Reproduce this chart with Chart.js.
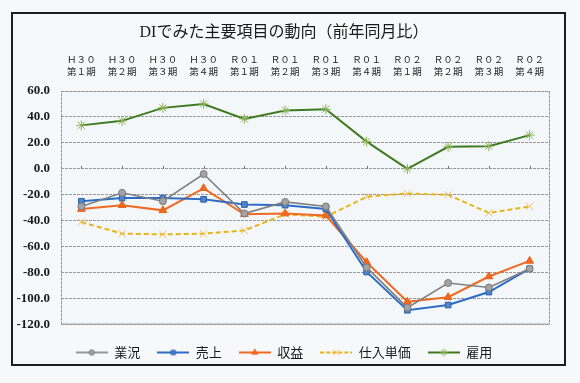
<!DOCTYPE html>
<html>
<head>
<meta charset="utf-8">
<script src="https://cdn.jsdelivr.net/npm/chart.js@4.4.1/dist/chart.umd.min.js"></script>
<style>
html,body{margin:0;padding:0;background:#f6f8f9;}
#wrap{position:absolute;left:0;top:0;width:580px;height:383px;}
</style>
</head>
<body>
<div id="wrap"><canvas id="c" width="580" height="383"></canvas></div>
<script>
const periodYears = ['Ｈ３０','Ｈ３０','Ｈ３０','Ｈ３０','Ｒ０１','Ｒ０１','Ｒ０１','Ｒ０１','Ｒ０２','Ｒ０２','Ｒ０２','Ｒ０２'];
const periodQuarters = ['第１期','第２期','第３期','第４期','第１期','第２期','第３期','第４期','第１期','第２期','第３期','第４期'];
const seriesNames = ['業況','売上','収益','仕入単価','雇用'];
const gyokyo  = [-29, -18.5, -25, -4, -34.5, -25.5, -29, -76, -107, -88, -91.5, -77];
const uriage  = [-25, -22.5, -22.5, -23.5, -27.5, -28, -31, -79.5, -109, -105, -95, -77];
const shueki  = [-31, -28, -32, -15, -35, -34.5, -36, -72, -102.5, -99, -83, -71];
const shiire  = [-41, -50, -50.5, -50, -47.5, -35, -37, -21.5, -19, -20, -34, -29];
const koyo    = [33.5, 37, 47, 50, 38.5, 45, 46, 21, 0, 17, 17.5, 26];
const yMin = -120, yMax = 60, yStep = 20;

const labels = periodYears.map((y, i) => [y, periodQuarters[i]]);

const styles = [
  {line:'#808080', fill:'#a3a3a3', border:'#7a7a7a', point:'circle', r:3.5, w:1.6, dash:[]},
  {line:'#2d6cc6', fill:'#4f86c9', border:'#2a5ea8', point:'rect', r:4, w:2, dash:[]},
  {line:'#ef6a22', fill:'#f26b21', border:'#e8601a', point:'triangle', r:4.5, w:2, dash:[]},
  {line:'#e8b41c', fill:'#f2c76a', border:'#f0c060', point:'crossRot', r:5, w:2, dash:[5,3]},
  {line:'#3e7a1e', fill:'#8db356', border:'#8db356', point:'star', r:5, w:2, dash:[]}
];
const values = [gyokyo, uriage, shueki, shiire, koyo];

function legendImage(s) {
  const cv = document.createElement('canvas');
  cv.width = 32; cv.height = 12;
  const ctx = cv.getContext('2d');
  ctx.strokeStyle = s.line; ctx.lineWidth = s.w;
  ctx.setLineDash(s.dash.length ? [4,2] : []);
  ctx.beginPath(); ctx.moveTo(0,6); ctx.lineTo(32,6); ctx.stroke();
  ctx.setLineDash([]);
  ctx.fillStyle = s.fill; ctx.strokeStyle = s.border; ctx.lineWidth = 1;
  Chart.helpers.drawPoint(ctx, {pointStyle:s.point, radius:s.r*0.75, borderWidth:1, rotation:0}, 16, 6);
  return cv;
}

const datasets = values.map((v, i) => ({
  label: seriesNames[i],
  data: v,
  borderColor: styles[i].line,
  borderWidth: styles[i].w,
  borderDash: styles[i].dash,
  backgroundColor: styles[i].fill,
  pointStyle: styles[i].point,
  pointRadius: styles[i].r,
  pointBackgroundColor: styles[i].fill,
  pointBorderColor: styles[i].border,
  pointBorderWidth: 1,
  tension: 0,
  fill: false
}));

const bgPlugin = {
  id: 'bg',
  beforeDraw(chart) {
    const ctx = chart.ctx, a = chart.chartArea;
    ctx.save();
    ctx.fillStyle = '#f6f8f9';
    ctx.fillRect(0, 0, chart.width, chart.height);
    ctx.fillStyle = '#f4f7fa';
    ctx.fillRect(a.left, a.top, a.right - a.left, a.bottom - a.top);
    ctx.strokeStyle = '#1e1e1e';
    ctx.lineWidth = 2;
    ctx.strokeRect(12, 13, 553, 352);
    ctx.restore();
  },
  beforeDatasetsDraw(chart) {
    const ctx = chart.ctx, a = chart.chartArea;
    ctx.save();
    ctx.strokeStyle = '#959595';
    ctx.lineWidth = 1;
    ctx.setLineDash([3,1]);
    ctx.strokeRect(a.left + 0.5, a.top + 0.5, a.right - a.left - 1, a.bottom - a.top - 1);
    ctx.setLineDash([]);
    const y0 = chart.scales.y.getPixelForValue(0);
    const xs = chart.scales.x;
    ctx.strokeStyle = '#777';
    ctx.beginPath();
    for (let i = 0; i < labels.length; i++) {
      const x = Math.round(xs.getPixelForValue(i)) + 0.5;
      ctx.moveTo(x, y0 - 3); ctx.lineTo(x, y0);
    }
    ctx.stroke();
    ctx.restore();
  }
};

new Chart(document.getElementById('c'), {
  type: 'line',
  data: { labels: labels, datasets: datasets },
  options: {
    responsive: false,
    animation: false,
    devicePixelRatio: 1,
    layout: { padding: { left: 0, right: 12, top: 0, bottom: 14 } },
    plugins: {
      title: {
        display: true,
        text: 'DIでみた主要項目の動向（前年同月比）',
        font: { family: '"Liberation Serif", "Noto Sans CJK JP"', size: 16, weight: 'normal', lineHeight: 1.2 },
        color: '#1a1a1a',
        padding: { top: 23, bottom: 0 }
      },
      legend: {
        position: 'bottom',
        labels: {
          usePointStyle: true,
          pointStyleWidth: 32,
          padding: 17,
          color: '#1a1a1a',
          font: { family: '"Noto Sans CJK JP"', size: 13 },
          generateLabels(chart) {
            const items = Chart.defaults.plugins.legend.labels.generateLabels(chart);
            items.forEach((it, i) => { it.pointStyle = legendImage(styles[i]); });
            return items;
          }
        }
      },
      tooltip: { enabled: false }
    },
    scales: {
      x: {
        type: 'category',
        position: 'top',
        offset: true,
        grid: { display: false, drawTicks: false },
        border: { display: false },
        ticks: {
          padding: 14,
          maxRotation: 0,
          autoSkip: false,
          color: '#1e1e1e',
          font: { family: '"Noto Sans CJK JP"', size: 9.5, lineHeight: 1.25 }
        },
        afterFit(s) { s.height = 48.8; }
      },
      xb: {
        type: 'category',
        position: 'bottom',
        display: true,
        grid: { display: false, drawTicks: false },
        border: { display: false },
        ticks: { display: false },
        afterFit(s) { s.height = 4.5; }
      },
      y: {
        min: yMin, max: yMax,
        ticks: {
          stepSize: yStep,
          padding: 11,
          color: '#1a1a1a',
          font: { family: '"Liberation Serif"', size: 13, weight: 'bold' },
          callback: (v) => v.toFixed(1)
        },
        grid: { color: '#999999', lineWidth: 1, drawTicks: false },
        border: { display: false, dash: [3,1] },
        afterFit(s) { s.width = 61; }
      },
      yr: {
        position: 'right',
        display: true,
        grid: { display: false, drawTicks: false },
        border: { display: false },
        ticks: { display: false },
        afterFit(s) { s.width = 18; }
      }
    }
  },
  plugins: [bgPlugin]
});
</script>
</body>
</html>
